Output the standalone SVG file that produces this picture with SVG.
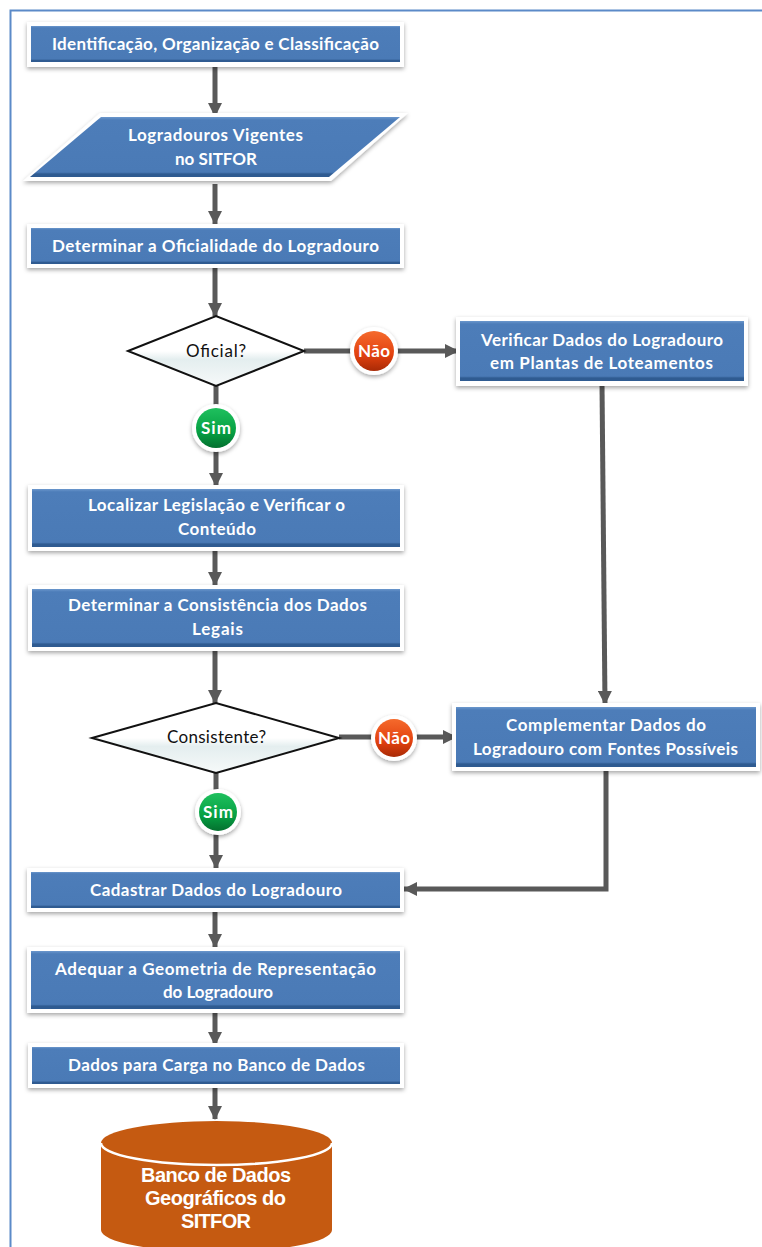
<svg xmlns="http://www.w3.org/2000/svg" width="762" height="1247" viewBox="0 0 762 1247">
<style>
.outer{fill:#fff;filter:url(#sh)}
.inner{fill:url(#blue)}
.t{font-family:Lato,"Open Sans","Liberation Sans",sans-serif;font-weight:700;font-size:17px;fill:#fff;text-anchor:middle;dominant-baseline:central;transform:translateY(-1px)}
.q{font-family:Lato,"Open Sans","Liberation Sans",sans-serif;font-size:17px;fill:#111;text-anchor:middle;dominant-baseline:central;transform:translateY(-1px)}
.b{font-family:"Liberation Sans",Arial,sans-serif;font-weight:700;font-size:20px;fill:#fff;text-anchor:middle;dominant-baseline:central}
.d{fill:url(#dia);stroke:#111;stroke-width:2}
.c{fill:none;stroke:#595959;stroke-width:5;marker-end:url(#a)}
.ring{fill:#fff;filter:url(#sh)}
</style>
<defs>
<linearGradient id="blue" x1="0" y1="0" x2="0" y2="1"><stop offset="0" stop-color="#6b97cc"/><stop offset=".05" stop-color="#4d7db9"/><stop offset=".92" stop-color="#4a7ab6"/><stop offset=".95" stop-color="#2f5b91"/><stop offset="1" stop-color="#2f5b91"/></linearGradient>
<linearGradient id="dia" x1="0" y1="0" x2="0" y2="1"><stop offset="0" stop-color="#fff"/><stop offset=".5" stop-color="#fff"/><stop offset=".62" stop-color="#e4eeef"/><stop offset="1" stop-color="#f6f9f9"/></linearGradient>
<linearGradient id="red" x1="0" y1="0" x2="0" y2="1"><stop offset="0" stop-color="#f56a2c"/><stop offset=".6" stop-color="#e2410f"/><stop offset="1" stop-color="#a82a06"/></linearGradient>
<linearGradient id="green" x1="0" y1="0" x2="0" y2="1"><stop offset="0" stop-color="#1fc05e"/><stop offset=".6" stop-color="#06a043"/><stop offset="1" stop-color="#04702f"/></linearGradient>
<filter id="sh" x="-10%" y="-20%" width="120%" height="150%"><feDropShadow dx="0" dy="2" stdDeviation="2" flood-color="#000" flood-opacity=".35"/></filter>
<marker id="a" markerUnits="userSpaceOnUse" markerWidth="14" markerHeight="14" refX="13" refY="7" orient="auto"><path d="M0 0L14 7L0 14Z" fill="#595959"/></marker>
</defs>
<path d="M10.500 1247V10.500H762" fill="none" stroke="#5b8ac8" stroke-width="2"/>
<g id="connectors">
<path class="c" d="M215 64V116"/>
<path class="c" d="M215 184V224"/>
<path class="c" d="M215 266V316"/>
<path class="c" d="M216 386V486"/>
<path class="c" d="M304 351H458"/>
<path class="c" d="M602 384L605 704"/>
<path class="c" d="M215 550V585"/>
<path class="c" d="M215 650V703"/>
<path class="c" d="M339 737H456"/>
<path class="c" d="M216 772V868"/>
<path class="c" d="M606 770V889H404"/>
<path class="c" d="M215 910V947"/>
<path class="c" d="M215 1012V1045"/>
<path class="c" d="M215 1086V1119"/>
</g>
<g id="n1"><rect class="outer" x="27" y="22" width="377" height="45"/><rect class="inner" x="31" y="26" width="369" height="36"/><text class="t" x="215.500" y="44" textLength="327">Identificação, Organização e Classificação</text></g>
<g id="n2"><path class="outer" d="M100 113H408L331 181H23Z"/><path class="inner" d="M101 117H400L329 177H30Z"/><text class="t" x="215.500" y="135" textLength="175">Logradouros Vigentes</text><text class="t" x="216" y="159" textLength="82">no SITFOR</text></g>
<g id="n3"><rect class="outer" x="27" y="224" width="377" height="44"/><rect class="inner" x="31" y="228" width="369" height="36"/><text class="t" x="215.500" y="246" textLength="327">Determinar a Oficialidade do Logradouro</text></g>
<g id="n4"><path class="d" d="M128 351L216 316L304 351L216 386Z"/><text class="q" x="216" y="351" textLength="60">Oficial?</text></g>
<g id="n5"><circle class="ring" cx="374" cy="351" r="24"/><circle cx="374" cy="351" r="20" fill="url(#red)"/><text class="t" x="374" y="351" textLength="32">Não</text></g>
<g id="n6"><rect class="outer" x="456" y="317" width="292" height="69"/><rect class="inner" x="460" y="321" width="284" height="60"/><text class="t" x="602" y="340" textLength="242">Verificar Dados do Logradouro</text><text class="t" x="601.500" y="363" textLength="223">em Plantas de Loteamentos</text></g>
<g id="n7"><circle class="ring" cx="216" cy="428" r="24"/><circle cx="216" cy="428" r="20" fill="url(#green)"/><text class="t" x="216" y="428" textLength="30">Sim</text></g>
<g id="n8"><rect class="outer" x="28" y="485" width="376" height="66"/><rect class="inner" x="32" y="489" width="368" height="58"/><text class="t" x="216.500" y="505" textLength="257">Localizar Legislação e Verificar o</text><text class="t" x="217" y="529" textLength="78">Conteúdo</text></g>
<g id="n9"><rect class="outer" x="28" y="585" width="376" height="66"/><rect class="inner" x="32" y="589" width="368" height="58"/><text class="t" x="217.500" y="605" textLength="299">Determinar a Consistência dos Dados</text><text class="t" x="217.500" y="629" textLength="51">Legais</text></g>
<g id="n10"><path class="d" d="M92 738L216 703L339 738L216 773Z"/><text class="q" x="216.500" y="737" textLength="99">Consistente?</text></g>
<g id="n11"><circle class="ring" cx="394" cy="738" r="23"/><circle cx="394" cy="738" r="19" fill="url(#red)"/><text class="t" x="394" y="738" textLength="32">Não</text></g>
<g id="n12"><rect class="outer" x="452" y="703" width="308" height="68"/><rect class="inner" x="456" y="707" width="300" height="60"/><text class="t" x="606" y="725" textLength="200">Complementar Dados do</text><text class="t" x="605.500" y="749" textLength="265">Logradouro com Fontes Possíveis</text></g>
<g id="n13"><circle class="ring" cx="218" cy="812" r="23"/><circle cx="218" cy="812" r="19" fill="url(#green)"/><text class="t" x="218" y="812" textLength="30">Sim</text></g>
<g id="n14"><rect class="outer" x="27" y="868" width="377" height="44"/><rect class="inner" x="31" y="872" width="369" height="36"/><text class="t" x="216" y="890" textLength="252">Cadastrar Dados do Logradouro</text></g>
<g id="n15"><rect class="outer" x="27" y="947" width="377" height="66"/><rect class="inner" x="31" y="951" width="369" height="58"/><text class="t" x="215.500" y="969" textLength="321">Adequar a Geometria de Representação</text><text class="t" x="218" y="992" textLength="110">do Logradouro</text></g>
<g id="n16"><rect class="outer" x="28" y="1043" width="376" height="45"/><rect class="inner" x="32" y="1047" width="368" height="37"/><text class="t" x="216.500" y="1065" textLength="297">Dados para Carga no Banco de Dados</text></g>
<g id="n17"><path d="M101 1143V1230A115.500 22 0 0 0 332 1230V1143Z" fill="#c55a11"/><ellipse cx="216.500" cy="1143" rx="115.500" ry="22" fill="#c55a11"/><path d="M101 1143A115.500 22 0 0 0 332 1143" fill="none" stroke="#fff" stroke-width="2.500"/><text class="b" x="216" y="1175" textLength="150">Banco de Dados</text><text class="b" x="215.500" y="1198" textLength="141">Geográficos do</text><text class="b" x="216" y="1221" textLength="70">SITFOR</text></g>
</svg>
